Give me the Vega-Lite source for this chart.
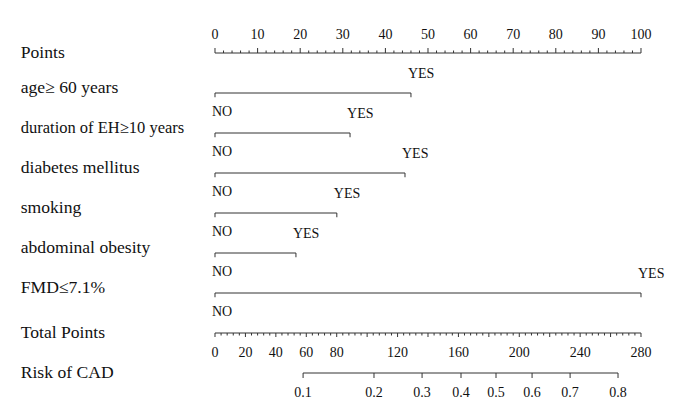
{
  "$schema": "https://vega.github.io/schema/vega-lite/v6.json",
  "width": 685,
  "height": 412,
  "autosize": {"type": "fit", "contains": "padding"},
  "padding": 0,
  "background": "white",
  "config": {"view": {"stroke": null}, "text": {"font": "Liberation Serif", "color": "#111"}},
  "datasets": {
    "pts": [{"v":0},{"v":2},{"v":4},{"v":6},{"v":8},{"v":10},{"v":12},{"v":14},{"v":16},{"v":18},{"v":20},{"v":22},{"v":24},{"v":26},{"v":28},{"v":30},{"v":32},{"v":34},{"v":36},{"v":38},{"v":40},{"v":42},{"v":44},{"v":46},{"v":48},{"v":50},{"v":52},{"v":54},{"v":56},{"v":58},{"v":60},{"v":62},{"v":64},{"v":66},{"v":68},{"v":70},{"v":72},{"v":74},{"v":76},{"v":78},{"v":80},{"v":82},{"v":84},{"v":86},{"v":88},{"v":90},{"v":92},{"v":94},{"v":96},{"v":98},{"v":100}],
    "tot": [{"v":0},{"v":4},{"v":8},{"v":12},{"v":16},{"v":20},{"v":24},{"v":28},{"v":32},{"v":36},{"v":40},{"v":44},{"v":48},{"v":52},{"v":56},{"v":60},{"v":64},{"v":68},{"v":72},{"v":76},{"v":80},{"v":84},{"v":88},{"v":92},{"v":96},{"v":100},{"v":104},{"v":108},{"v":112},{"v":116},{"v":120},{"v":124},{"v":128},{"v":132},{"v":136},{"v":140},{"v":144},{"v":148},{"v":152},{"v":156},{"v":160},{"v":164},{"v":168},{"v":172},{"v":176},{"v":180},{"v":184},{"v":188},{"v":192},{"v":196},{"v":200},{"v":204},{"v":208},{"v":212},{"v":216},{"v":220},{"v":224},{"v":228},{"v":232},{"v":236},{"v":240},{"v":244},{"v":248},{"v":252},{"v":256},{"v":260},{"v":264},{"v":268},{"v":272},{"v":276},{"v":280}],
    "risk": [{"p":"0.1","tp":57.9},{"p":"0.2","tp":104.5},{"p":"0.3","tp":136.1},{"p":"0.4","tp":161.7},{"p":"0.5","tp":184.7},{"p":"0.6","tp":208.4},{"p":"0.7","tp":233.4},{"p":"0.8","tp":264.9}],
    "vars": [
      {"row":1,"name":"age≥ 60 years","no":0,"yes":46.0},
      {"row":2,"name":"duration of EH≥10 years","no":0,"yes":31.7},
      {"row":3,"name":"diabetes mellitus","no":0,"yes":44.6},
      {"row":4,"name":"smoking","no":0,"yes":28.6},
      {"row":5,"name":"abdominal obesity","no":0,"yes":19.0},
      {"row":6,"name":"FMD≤7.1%","no":0,"yes":100}
    ],
    "axes": [{"row":0,"name":"Points"},{"row":7,"name":"Total Points"},{"row":8,"name":"Risk of CAD"}]
  },
  "resolve": {"scale": {"x": "independent"}},
  "layer": [
    {
      "layer": [
        {
          "data": {"name": "pts"},
          "mark": {"type": "rule", "color": "#333", "strokeWidth": 1},
          "encoding": {
            "x": {"aggregate": "min", "field": "v", "type": "quantitative", "scale": {"domain": [-50.469, 110.329], "nice": false, "zero": false}, "axis": null},
            "x2": {"aggregate": "max", "field": "v"},
            "y": {"datum": 0, "type": "quantitative", "scale": {"domain": [-1.325, 8.975], "reverse": true, "nice": false, "zero": false}, "axis": null}
          }
        },
        {
          "data": {"name": "pts"},
          "mark": {"type": "point", "shape": "M0,0V-1", "filled": false, "opacity": 1, "color": "#333", "strokeWidth": 1},
          "encoding": {
            "x": {"field": "v", "type": "quantitative", "scale": {"domain": [-50.469, 110.329], "nice": false, "zero": false}, "axis": null},
            "y": {"datum": 0, "type": "quantitative", "scale": {"domain": [-1.325, 8.975], "reverse": true, "nice": false, "zero": false}, "axis": null},
            "size": {"condition": {"test": "datum.v % 10 === 0", "value": 100}, "value": 25}
          }
        },
        {
          "data": {"name": "pts"},
          "transform": [{"filter": "datum.v % 10 === 0"}],
          "mark": {"type": "text", "dy": -18, "fontSize": 14},
          "encoding": {
            "x": {"field": "v", "type": "quantitative", "scale": {"domain": [-50.469, 110.329], "nice": false, "zero": false}, "axis": null},
            "y": {"datum": 0, "type": "quantitative", "scale": {"domain": [-1.325, 8.975], "reverse": true, "nice": false, "zero": false}, "axis": null},
            "text": {"field": "v", "type": "quantitative"}
          }
        },
        {
          "data": {"name": "vars"},
          "mark": {"type": "rule", "color": "#333", "strokeWidth": 1},
          "encoding": {
            "x": {"field": "no", "type": "quantitative", "scale": {"domain": [-50.469, 110.329], "nice": false, "zero": false}, "axis": null},
            "x2": {"field": "yes"},
            "y": {"field": "row", "type": "quantitative", "scale": {"domain": [-1.325, 8.975], "reverse": true, "nice": false, "zero": false}, "axis": null}
          }
        },
        {
          "data": {"name": "vars"},
          "mark": {"type": "point", "shape": "M0,0V1", "filled": false, "opacity": 1, "color": "#333", "strokeWidth": 1, "size": 72},
          "encoding": {
            "x": {"field": "no", "type": "quantitative", "scale": {"domain": [-50.469, 110.329], "nice": false, "zero": false}, "axis": null},
            "y": {"field": "row", "type": "quantitative", "scale": {"domain": [-1.325, 8.975], "reverse": true, "nice": false, "zero": false}, "axis": null}
          }
        },
        {
          "data": {"name": "vars"},
          "mark": {"type": "point", "shape": "M0,0V1", "filled": false, "opacity": 1, "color": "#333", "strokeWidth": 1, "size": 72},
          "encoding": {
            "x": {"field": "yes", "type": "quantitative", "scale": {"domain": [-50.469, 110.329], "nice": false, "zero": false}, "axis": null},
            "y": {"field": "row", "type": "quantitative", "scale": {"domain": [-1.325, 8.975], "reverse": true, "nice": false, "zero": false}, "axis": null}
          }
        },
        {
          "data": {"name": "vars"},
          "mark": {"type": "text", "align": "left", "dx": -3, "dy": -19, "fontSize": 14},
          "encoding": {
            "x": {"field": "yes", "type": "quantitative", "scale": {"domain": [-50.469, 110.329], "nice": false, "zero": false}, "axis": null},
            "y": {"field": "row", "type": "quantitative", "scale": {"domain": [-1.325, 8.975], "reverse": true, "nice": false, "zero": false}, "axis": null},
            "text": {"value": "YES"}
          }
        },
        {
          "data": {"name": "vars"},
          "mark": {"type": "text", "align": "left", "dx": -3, "dy": 19, "fontSize": 14},
          "encoding": {
            "x": {"field": "no", "type": "quantitative", "scale": {"domain": [-50.469, 110.329], "nice": false, "zero": false}, "axis": null},
            "y": {"field": "row", "type": "quantitative", "scale": {"domain": [-1.325, 8.975], "reverse": true, "nice": false, "zero": false}, "axis": null},
            "text": {"value": "NO"}
          }
        },
        {
          "data": {"name": "vars"},
          "mark": {"type": "text", "align": "left", "dy": -5},
          "encoding": {
            "x": {"datum": -45.6, "type": "quantitative", "scale": {"domain": [-50.469, 110.329], "nice": false, "zero": false}, "axis": null},
            "y": {"field": "row", "type": "quantitative", "scale": {"domain": [-1.325, 8.975], "reverse": true, "nice": false, "zero": false}, "axis": null},
            "text": {"field": "name"},
            "size": {"condition": {"test": "datum.row === 2", "value": 16.5}, "value": 17.6}
          }
        },
        {
          "data": {"name": "axes"},
          "mark": {"type": "text", "align": "left", "fontSize": 17.6},
          "encoding": {
            "x": {"datum": -45.6, "type": "quantitative", "scale": {"domain": [-50.469, 110.329], "nice": false, "zero": false}, "axis": null},
            "y": {"field": "row", "type": "quantitative", "scale": {"domain": [-1.325, 8.975], "reverse": true, "nice": false, "zero": false}, "axis": null},
            "text": {"field": "name"}
          }
        }
      ]
    },
    {
      "layer": [
        {
          "data": {"name": "tot"},
          "mark": {"type": "rule", "color": "#333", "strokeWidth": 1},
          "encoding": {
            "x": {"aggregate": "min", "field": "v", "type": "quantitative", "scale": {"domain": [-141.31, 308.92], "nice": false, "zero": false}, "axis": null},
            "x2": {"aggregate": "max", "field": "v"},
            "y": {"datum": 7, "type": "quantitative", "scale": {"domain": [-1.325, 8.975], "reverse": true, "nice": false, "zero": false}, "axis": null}
          }
        },
        {
          "data": {"name": "tot"},
          "mark": {"type": "point", "shape": "M0,0V1", "filled": false, "opacity": 1, "color": "#333", "strokeWidth": 1},
          "encoding": {
            "x": {"field": "v", "type": "quantitative", "scale": {"domain": [-141.31, 308.92], "nice": false, "zero": false}, "axis": null},
            "y": {"datum": 7, "type": "quantitative", "scale": {"domain": [-1.325, 8.975], "reverse": true, "nice": false, "zero": false}, "axis": null},
            "size": {"condition": {"test": "datum.v % 20 === 0", "value": 64}, "value": 25}
          }
        },
        {
          "data": {"name": "tot"},
          "transform": [{"filter": "indexof([0,20,40,60,80,120,160,200,240,280], datum.v) >= 0"}],
          "mark": {"type": "text", "dy": 20, "fontSize": 14},
          "encoding": {
            "x": {"field": "v", "type": "quantitative", "scale": {"domain": [-141.31, 308.92], "nice": false, "zero": false}, "axis": null},
            "y": {"datum": 7, "type": "quantitative", "scale": {"domain": [-1.325, 8.975], "reverse": true, "nice": false, "zero": false}, "axis": null},
            "text": {"field": "v", "type": "quantitative"}
          }
        },
        {
          "data": {"name": "risk"},
          "mark": {"type": "rule", "color": "#333", "strokeWidth": 1},
          "encoding": {
            "x": {"aggregate": "min", "field": "tp", "type": "quantitative", "scale": {"domain": [-141.31, 308.92], "nice": false, "zero": false}, "axis": null},
            "x2": {"aggregate": "max", "field": "tp"},
            "y": {"datum": 8, "type": "quantitative", "scale": {"domain": [-1.325, 8.975], "reverse": true, "nice": false, "zero": false}, "axis": null}
          }
        },
        {
          "data": {"name": "risk"},
          "mark": {"type": "point", "shape": "M0,0V1", "filled": false, "opacity": 1, "color": "#333", "strokeWidth": 1, "size": 100},
          "encoding": {
            "x": {"field": "tp", "type": "quantitative", "scale": {"domain": [-141.31, 308.92], "nice": false, "zero": false}, "axis": null},
            "y": {"datum": 8, "type": "quantitative", "scale": {"domain": [-1.325, 8.975], "reverse": true, "nice": false, "zero": false}, "axis": null}
          }
        },
        {
          "data": {"name": "risk"},
          "mark": {"type": "text", "dy": 20, "fontSize": 14},
          "encoding": {
            "x": {"field": "tp", "type": "quantitative", "scale": {"domain": [-141.31, 308.92], "nice": false, "zero": false}, "axis": null},
            "y": {"datum": 8, "type": "quantitative", "scale": {"domain": [-1.325, 8.975], "reverse": true, "nice": false, "zero": false}, "axis": null},
            "text": {"field": "p"}
          }
        }
      ]
    }
  ]
}
